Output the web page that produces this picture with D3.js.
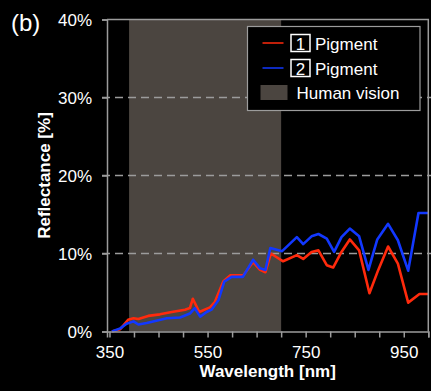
<!DOCTYPE html>
<html>
<head>
<meta charset="utf-8">
<script src="https://cdn.jsdelivr.net/npm/d3@7"></script>
<style>
  body { margin: 0; background: #000; }
  svg { display: block; font-family: "Liberation Sans", Arial, sans-serif; }
</style>
</head>
<body>
<svg></svg>
<script>
const width = 431;
const height = 391;
const margin = { top: 19.5, right: 2.7, bottom: 59.5, left: 107 };

// wavelength [nm] and reflectance [%]
const pigment1Wavelength = [355, 372, 388, 399, 409, 429, 453, 477, 504, 514, 520, 533, 555, 565, 582, 596, 623, 643, 657, 668, 679, 704, 732, 745, 762, 776, 793, 806, 823, 840, 859, 880, 898, 918, 938, 959, 982, 1000];
const pigment1Reflectance = [0, 0.3, 1.5, 1.7, 1.6, 2.0, 2.2, 2.5, 2.8, 3.0, 4.2, 2.5, 3.1, 3.8, 6.4, 7.2, 7.2, 8.9, 7.9, 7.6, 10.0, 9.0, 9.8, 9.3, 10.2, 10.4, 8.5, 8.2, 10.2, 11.8, 10.4, 4.9, 7.9, 10.9, 8.7, 3.7, 4.8, 4.8];

const pigment2Wavelength = [355, 372, 385, 399, 409, 426, 467, 494, 514, 524, 535, 548, 558, 572, 584, 599, 622, 643, 657, 668, 678, 702, 732, 745, 762, 776, 793, 808, 823, 840, 859, 878, 896, 918, 938, 959, 980, 1000];
const pigment2Reflectance = [0, 0.4, 1.0, 1.3, 0.9, 1.1, 1.7, 1.8, 2.3, 3.0, 1.9, 2.5, 2.8, 4.0, 6.4, 7.0, 7.0, 9.2, 8.1, 7.9, 10.7, 10.3, 12.1, 11.2, 12.2, 12.5, 11.9, 10.2, 12.1, 13.2, 12.2, 7.9, 11.8, 13.8, 11.7, 7.8, 15.2, 15.2];

const visionBand = [390, 700];
const xTicks = [350, 400, 450, 500, 550, 600, 650, 700, 750, 800, 850, 900, 950, 1000];
const xLabels = [350, 550, 750, 950];
const yTicks = [0, 10, 20, 30, 40];
const gridValues = [10, 20, 30];

const seriesNames = ["1", "2"];
const seriesColors = ["#ff2a0c", "#1238ff"];

const axisGray = "#9c9c9c";
const bandColor = "#4b4540";

const svg = d3.select("svg").attr("width", width).attr("height", height);

const x = d3.scaleLinear().domain([345, 1000]).range([margin.left, width - margin.right]);
const y = d3.scaleLinear().domain([0, 40]).range([height - margin.bottom, margin.top]);

// human vision band
svg.append("rect")
  .attr("x", x(visionBand[0]))
  .attr("y", y(40))
  .attr("width", x(visionBand[1]) - x(visionBand[0]))
  .attr("height", y(0) - y(40))
  .attr("fill", bandColor);

// dashed grid
svg.append("g")
  .selectAll("line")
  .data(gridValues)
  .join("line")
  .attr("x1", margin.left - 5)
  .attr("x2", width)
  .attr("y1", (d) => y(d))
  .attr("y2", (d) => y(d))
  .attr("stroke", axisGray)
  .attr("stroke-width", 1.5)
  .attr("stroke-dasharray", "8,5");

// series
const series = [
  { wl: pigment1Wavelength, r: pigment1Reflectance, color: seriesColors[0] },
  { wl: pigment2Wavelength, r: pigment2Reflectance, color: seriesColors[1] },
];
const line = d3.line().x((d) => x(d[0])).y((d) => y(d[1]));
series.forEach((s) => {
  svg.append("path")
    .datum(d3.zip(s.wl, s.r))
    .attr("fill", "none")
    .attr("stroke", s.color)
    .attr("stroke-width", 2.6)
    .attr("stroke-linejoin", "round")
    .attr("d", line);
});

// axes
const xAxis = svg.append("g")
  .attr("transform", `translate(0, ${y(0)})`)
  .call(d3.axisBottom(x).tickValues(xTicks).tickSize(6).tickPadding(8)
    .tickFormat((d) => (xLabels.includes(d) ? d : "")));

const yAxis = svg.append("g")
  .attr("transform", `translate(${margin.left}, 0)`)
  .call(d3.axisLeft(y).tickValues(yTicks).tickSize(5).tickPadding(10)
    .tickFormat((d) => d + "%"));

[xAxis, yAxis].forEach((g) => {
  g.select(".domain").attr("stroke", axisGray).attr("stroke-width", 1.5);
  g.selectAll(".tick line").attr("stroke", axisGray).attr("stroke-width", 1.5);
  g.selectAll("text").attr("fill", "#fff").attr("font-size", 17).attr("font-family", "Liberation Sans, Arial, sans-serif");
});
yAxis.selectAll("text").attr("dy", "0.38em");

// top and right frame
svg.append("path")
  .attr("d", `M${x(345)},${y(40)}H${x(1000)}V${y(0)}`)
  .attr("fill", "none")
  .attr("stroke", axisGray)
  .attr("stroke-width", 1.5);

// axis titles
svg.append("text")
  .attr("x", (margin.left + width - margin.right) / 2)
  .attr("y", 377)
  .attr("text-anchor", "middle")
  .attr("fill", "#fff")
  .attr("font-size", 17)
  .attr("font-weight", "bold")
  .text("Wavelength [nm]");

svg.append("text")
  .attr("transform", `translate(50, ${(y(0) + y(40)) / 2}) rotate(-90)`)
  .attr("text-anchor", "middle")
  .attr("fill", "#fff")
  .attr("font-size", 17)
  .attr("font-weight", "bold")
  .text("Reflectance [%]");

svg.append("text")
  .attr("x", 11)
  .attr("y", 31)
  .attr("fill", "#fff")
  .attr("font-size", 24)
  .text("(b)");

// legend
const legend = svg.append("g").attr("transform", "translate(247.5, 26.5)");
legend.append("rect")
  .attr("width", 172.5)
  .attr("height", 84)
  .attr("fill", "#000")
  .attr("stroke", axisGray)
  .attr("stroke-width", 1.2);

seriesNames.forEach((name, i) => {
  const row = legend.append("g").attr("transform", `translate(0, ${16.5 + i * 25})`);
  row.append("line")
    .attr("x1", 15).attr("x2", 36)
    .attr("stroke", seriesColors[i])
    .attr("stroke-width", 1.5);
  row.append("rect")
    .attr("x", 43.5).attr("y", -8.5)
    .attr("width", 19).attr("height", 17)
    .attr("fill", "none")
    .attr("stroke", "#fff")
    .attr("stroke-width", 1.5);
  row.append("text")
    .attr("x", 53).attr("y", 6.5)
    .attr("text-anchor", "middle")
    .attr("fill", "#fff")
    .attr("font-size", 17)
    .text(name);
  row.append("text")
    .attr("x", 67.5).attr("y", 6.5)
    .attr("fill", "#fff")
    .attr("font-size", 17)
    .text("Pigment");
});

legend.append("rect")
  .attr("x", 13).attr("y", 58.5)
  .attr("width", 27).attr("height", 15)
  .attr("fill", bandColor);
legend.append("text")
  .attr("x", 49).attr("y", 72)
  .attr("fill", "#fff")
  .attr("font-size", 17)
  .text("Human vision");
</script>
</body>
</html>
